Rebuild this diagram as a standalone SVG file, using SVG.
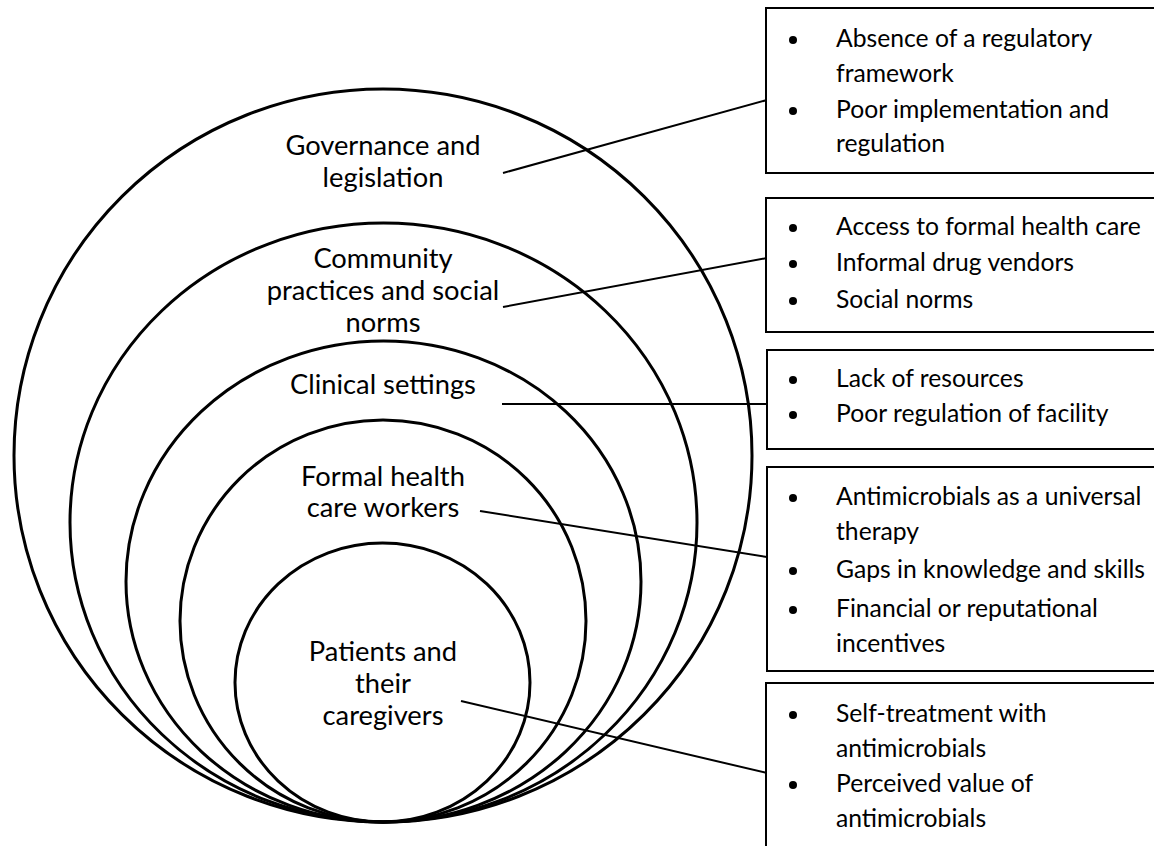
<svg xmlns="http://www.w3.org/2000/svg" width="1154" height="846" viewBox="0 0 1154 846">
<style>
.ring{fill:none;stroke:#000;stroke-width:3}
.box{fill:#fff;stroke:#000;stroke-width:2}
.conn{stroke:#000;stroke-width:2;fill:none}
.lbl{font-family:Lato,"Open Sans",sans-serif;font-size:27.3px;fill:#000;text-anchor:middle}
.txt{font-family:Lato,"Open Sans",sans-serif;font-size:24.7px;fill:#000}
.bul{fill:#000}
</style>
<defs>
<circle id="dot" r="4"/>
</defs>
<rect width="1154" height="846" fill="#fff"/>
<g id="rings">
<ellipse id="ring-governance" class="ring" cx="383" cy="455.5" rx="369" ry="366.5"/>
<ellipse id="ring-community" class="ring" cx="383.5" cy="522.5" rx="313.5" ry="299.5"/>
<ellipse id="ring-clinical" class="ring" cx="383.5" cy="581.5" rx="257.5" ry="240.5"/>
<ellipse id="ring-workers" class="ring" cx="383" cy="621" rx="203" ry="201"/>
<ellipse id="ring-patients" class="ring" cx="382.5" cy="682.5" rx="147.5" ry="139.5"/>
</g>
<g id="connectors">
<line class="conn" x1="503" y1="173" x2="767" y2="100"/>
<line class="conn" x1="503" y1="307" x2="767" y2="258"/>
<line class="conn" x1="502" y1="404" x2="767" y2="404"/>
<line class="conn" x1="480" y1="511" x2="767" y2="557"/>
<line class="conn" x1="461" y1="701" x2="767" y2="773"/>
</g>
<g id="label-governance">
<text class="lbl" x="383" y="155">Governance and</text>
<text class="lbl" x="383" y="187">legislation</text>
</g>
<g id="label-community">
<text class="lbl" x="383" y="268">Community</text>
<text class="lbl" x="383" y="300">practices and social</text>
<text class="lbl" x="383" y="332">norms</text>
</g>
<g id="label-clinical">
<text class="lbl" x="383" y="394">Clinical settings</text>
</g>
<g id="label-workers">
<text class="lbl" x="383" y="486">Formal health</text>
<text class="lbl" x="383" y="517">care workers</text>
</g>
<g id="label-patients">
<text class="lbl" x="383" y="661">Patients and</text>
<text class="lbl" x="383" y="693">their</text>
<text class="lbl" x="383" y="725">caregivers</text>
</g>
<g id="box-governance">
<rect class="box" x="766" y="8" width="400" height="165"/>
<use href="#dot" class="bul" x="793" y="40"/>
<text class="txt" x="836" y="47">Absence of a regulatory</text>
<text class="txt" x="836" y="82">framework</text>
<use href="#dot" class="bul" x="793" y="111"/>
<text class="txt" x="836" y="118">Poor implementation and</text>
<text class="txt" x="836" y="152">regulation</text>
</g>
<g id="box-community">
<rect class="box" x="766" y="198" width="400" height="134"/>
<use href="#dot" class="bul" x="793" y="228"/>
<text class="txt" x="836" y="235">Access to formal health care</text>
<use href="#dot" class="bul" x="793" y="264"/>
<text class="txt" x="836" y="271">Informal drug vendors</text>
<use href="#dot" class="bul" x="793" y="301"/>
<text class="txt" x="836" y="308">Social norms</text>
</g>
<g id="box-clinical">
<rect class="box" x="767" y="350" width="400" height="99"/>
<use href="#dot" class="bul" x="793" y="380"/>
<text class="txt" x="836" y="387">Lack of resources</text>
<use href="#dot" class="bul" x="793" y="415"/>
<text class="txt" x="836" y="422">Poor regulation of facility</text>
</g>
<g id="box-workers">
<rect class="box" x="767" y="467" width="400" height="204"/>
<use href="#dot" class="bul" x="793" y="498"/>
<text class="txt" x="836" y="505">Antimicrobials as a universal</text>
<text class="txt" x="836" y="540">therapy</text>
<use href="#dot" class="bul" x="793" y="571"/>
<text class="txt" x="836" y="578">Gaps in knowledge and skills</text>
<use href="#dot" class="bul" x="793" y="610"/>
<text class="txt" x="836" y="617">Financial or reputational</text>
<text class="txt" x="836" y="652">incentives</text>
</g>
<g id="box-patients">
<rect class="box" x="766" y="683" width="400" height="200"/>
<use href="#dot" class="bul" x="793" y="715"/>
<text class="txt" x="836" y="722">Self-treatment with</text>
<text class="txt" x="836" y="757">antimicrobials</text>
<use href="#dot" class="bul" x="793" y="785"/>
<text class="txt" x="836" y="792">Perceived value of</text>
<text class="txt" x="836" y="827">antimicrobials</text>
</g>
</svg>
